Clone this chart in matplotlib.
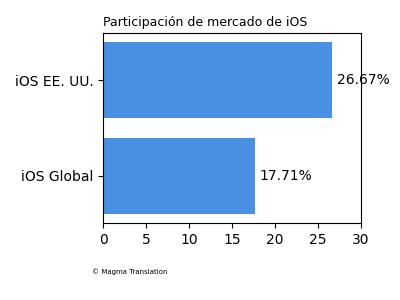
import matplotlib
matplotlib.use("Agg")
import matplotlib.pyplot as plt

# Data
labels = ["iOS Global", "iOS EE. UU."]
shares = [17.71, 26.67]

fig = plt.figure(figsize=(4, 3), dpi=100)
ax = fig.add_axes([0.2575, 0.2567, 0.645, 0.6333])

bars = ax.barh(labels, shares, color="#4a90e2", height=0.8)
ax.bar_label(bars, labels=[f"{v:.2f}%" for v in shares], padding=3, fontsize=10)

ax.set_xlim(0, 30)
ax.set_xticks([0, 5, 10, 15, 20, 25, 30])
ax.tick_params(labelsize=10)
ax.set_title("Participación de mercado de iOS", fontsize=9, loc="left", pad=5)

fig.text(0.23, 0.087, "© Magma Translation", fontsize=5)

fig.savefig("out.png", dpi=100)
